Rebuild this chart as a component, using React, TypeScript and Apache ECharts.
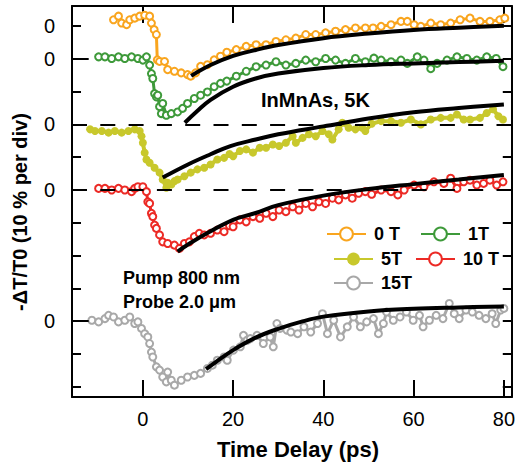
import React, { useEffect, useRef } from "react";
import * as echarts from "echarts";

const FONT = '"Liberation Sans", Arial, Helvetica, sans-serif';

// x range (ps) and y range (% ; 10 % per division)
const X_MIN = -15.7;
const X_MAX = 81.75;
const Y_MIN = -3.1;
const Y_MAX = 116.1;
const xTicks = [0, 20, 40, 60, 80];
const yTicks = [0, 10, 20, 30, 40, 50, 60, 70, 80, 90, 100, 110];

const fieldNames = ["0 T", "1T", "5T", "10 T", "15T"];
const zeroLevels = [110, 100, 80, 60, 20];
const colors = ["#F9A51E", "#3E9A3A", "#C8C82C", "#EC2A25", "#A8A8A8"];
const filledSymbol = [false, false, true, false, false];
const dashedZeroLevels = [80, 60];
const longTickLevels = [100, 20];

// measured traces: [time (ps), -dT/T0 (%)]
const trace0T: [number, number][] = [
  [-6.5, 1.9], [-5.4, 3.0], [-4.7, 0.9], [-3.6, 0.4], [-2.9, 1.9], [-1.8, 2.4], [-0.7, 3.0], [0.4, 3.3],
  [1.5, 3.0], [1.9, 0.9], [2.5, -1.1], [3.0, -2.6], [3.2, -10.3], [3.7, -10.8], [4.8, -10.8], [5.5, -13.3],
  [7.0, -13.8], [8.5, -14.3], [9.9, -14.8], [10.6, -15.3], [11.7, -14.3], [12.8, -12.3], [14.3, -11.8],
  [15.8, -10.3], [17.2, -9.2], [18.6, -8.0], [20.7, -7.2], [22.9, -6.2], [25.1, -5.7], [27.3, -5.7],
  [29.5, -4.7], [31.7, -4.2], [33.9, -3.7], [36.1, -2.6], [38.3, -2.6], [40.5, -2.1], [42.7, -1.6],
  [44.9, -1.1], [47.1, -0.6], [49.3, -0.6], [51.0, -0.6], [52.8, -0.1], [55.0, 0.4], [57.2, 1.4],
  [58.6, 1.4], [60.1, 0.4], [61.6, -0.1], [63.8, 0.9], [66.0, 0.4], [68.2, 0.9], [70.3, 1.9], [72.5, 2.4],
  [74.7, 1.4], [76.9, 1.4], [79.1, 1.9], [80.2, 2.4],
];
const trace1T: [number, number][] = [
  [-9.8, 0.6], [-8.4, 0.6], [-6.9, 0.1], [-5.4, 0.6], [-4.0, 0.1], [-2.5, 0.6], [-1.1, 0.1], [0.0, -0.4],
  [0.8, 0.6], [1.5, -1.9], [1.9, -4.5], [2.2, -6.0], [2.6, -10.6], [3.0, -11.6], [3.3, -11.1], [3.7, -14.6],
  [4.1, -16.7], [4.4, -13.6], [5.2, -17.2], [6.3, -16.7], [7.7, -16.2], [8.8, -15.1], [9.9, -13.6],
  [11.4, -12.1], [12.8, -11.1], [14.3, -10.1], [15.8, -8.5], [17.2, -7.5], [18.6, -6.8], [20.7, -5.3],
  [22.9, -3.8], [25.1, -2.4], [27.3, -1.9], [29.5, -0.9], [31.7, -1.9], [33.9, -1.4], [36.1, -0.4],
  [38.3, -0.9], [40.5, 0.1], [42.7, -0.4], [44.9, -1.4], [47.1, 0.1], [49.3, -0.9], [51.2, 0.2],
  [52.8, -0.4], [55.0, -0.9], [57.2, -0.4], [58.6, -1.4], [60.8, 0.6], [62.3, -0.4], [63.8, -3.0],
  [65.2, -1.4], [67.4, -0.4], [69.6, 0.6], [71.8, 0.1], [74.0, -0.4], [76.2, 0.6], [78.3, 0.1], [79.8, -2.4],
];
const trace5T: [number, number][] = [
  [-11.7, -1.5], [-10.6, -2.0], [-9.1, -2.0], [-7.6, -2.5], [-6.2, -2.0], [-4.7, -2.5], [-3.2, -2.0],
  [-1.8, -1.5], [-0.7, -2.0], [-0.3, -3.6], [0.0, -5.6], [0.4, -8.6], [0.8, -10.7], [1.5, -11.7],
  [2.6, -13.2], [3.7, -14.7], [4.4, -16.8], [5.2, -19.3], [5.5, -17.8], [6.3, -18.3], [7.0, -17.3],
  [7.7, -16.8], [9.2, -15.8], [10.6, -14.7], [12.1, -13.7], [13.6, -13.2], [15.0, -12.2], [16.5, -10.7],
  [18.0, -10.2], [19.2, -9.0], [20.0, -9.7], [21.5, -8.1], [22.9, -7.6], [24.4, -8.6], [25.9, -7.1],
  [27.3, -7.1], [28.8, -6.1], [30.2, -6.6], [31.7, -5.6], [33.2, -3.6], [33.9, -5.6], [35.4, -4.1],
  [36.8, -3.0], [38.3, -3.6], [39.8, -2.0], [41.2, -3.0], [42.0, -4.6], [43.4, -1.5], [44.2, 0.5],
  [45.6, -1.0], [47.1, -1.5], [48.6, -1.0], [49.3, -2.0], [50.7, 0.2], [52.8, 1.0], [55.0, 1.0],
  [57.2, 0.5], [59.4, 1.5], [61.6, 0.0], [63.8, 1.5], [66.0, 2.0], [68.2, 2.0], [69.6, 3.0], [71.1, 1.5],
  [72.5, 1.5], [74.7, 2.0], [76.2, 3.5], [77.6, 4.6], [78.8, 2.5], [79.8, 1.5],
];
const trace10T: [number, number][] = [
  [-9.8, 0.5], [-8.4, 0.5], [-6.9, 0.0], [-5.4, 0.5], [-4.0, 0.0], [-2.5, -0.5], [-1.8, 0.5], [-1.1, 1.0],
  [0.0, 1.0], [0.8, -0.5], [1.1, -3.6], [1.5, -4.1], [1.9, -7.1], [2.2, -8.1], [2.6, -10.7], [3.0, -11.7],
  [3.7, -13.7], [4.4, -15.8], [5.5, -16.3], [7.0, -16.8], [8.1, -17.8], [9.2, -16.3], [10.3, -15.8],
  [11.4, -14.2], [12.5, -13.2], [13.6, -13.7], [15.0, -13.2], [16.5, -12.2], [18.0, -12.7], [19.2, -10.9],
  [20.0, -11.2], [21.5, -9.1], [22.9, -9.7], [24.4, -8.1], [25.9, -8.6], [27.3, -7.1], [28.8, -8.1],
  [30.2, -6.1], [31.7, -6.6], [33.2, -5.1], [34.6, -6.1], [36.1, -4.1], [37.6, -5.1], [39.0, -3.6],
  [40.5, -4.1], [42.0, -2.5], [43.4, -3.0], [44.9, -1.5], [46.4, -2.5], [47.8, -1.0], [49.3, -0.5],
  [50.7, -1.3], [52.8, 0.0], [55.0, -0.5], [56.5, -1.5], [57.9, 0.0], [60.1, 1.5], [62.3, 1.0], [64.5, 2.5],
  [66.7, 2.0], [68.2, 3.6], [69.6, 0.5], [71.1, 2.5], [72.5, 3.0], [74.0, 1.5], [75.5, 2.0], [76.9, 3.0],
  [78.4, 1.5], [79.8, 2.5],
];
const trace15T: [number, number][] = [
  [-11.3, 0.3], [-9.8, -0.2], [-8.4, 0.8], [-7.6, 1.8], [-6.5, 1.3], [-5.4, -0.2], [-4.0, 0.3], [-2.9, 1.3],
  [-1.8, -0.7], [-1.1, -0.2], [-0.3, -2.2], [0.4, -3.8], [1.1, -4.8], [1.5, -6.8], [1.9, -9.4], [2.2, -10.9],
  [3.0, -13.9], [3.7, -14.9], [4.4, -17.0], [5.2, -18.5], [5.5, -15.5], [6.3, -18.0], [7.0, -19.5],
  [8.5, -18.0], [9.9, -17.0], [11.4, -16.5], [12.8, -15.9], [14.3, -14.4], [15.4, -13.4], [16.5, -11.9],
  [18.0, -10.9], [18.7, -11.9], [20.1, -8.8], [21.6, -7.8], [22.3, -4.3], [23.1, -5.8], [23.8, -5.3],
  [25.3, -4.3], [26.7, -6.8], [28.2, -4.8], [28.9, -7.8], [29.7, -0.7], [30.4, -2.2], [31.9, -2.7],
  [32.8, -3.3], [34.3, -3.8], [35.7, -1.7], [37.2, -3.3], [38.7, -0.7], [39.8, 2.3], [40.9, -3.8],
  [42.3, 0.3], [43.8, -4.8], [45.3, -1.7], [46.7, 1.3], [48.2, -1.7], [49.6, -0.2], [51.1, 0.8],
  [52.2, -3.8], [53.3, -0.7], [54.0, 2.8], [55.5, 0.3], [57.0, 1.3], [58.4, 2.8], [59.9, 0.3], [61.3, 1.8],
  [62.1, -1.7], [63.5, 0.3], [65.0, 1.8], [66.5, 0.8], [67.9, 5.4], [69.0, 2.3], [70.1, 0.8], [71.6, 3.4],
  [73.0, 2.8], [74.5, 1.8], [76.0, 0.8], [77.4, 2.3], [78.2, -0.7], [79.3, 3.4], [80.0, 3.9],
];

// fitted recovery curves
const fit0T: [number, number][] = [
  [10.7, -15.2], [15, -11.9], [20, -9.1], [25, -7.3], [30, -5.8], [40, -3.7], [50, -2.3], [60, -1.2], [70, -0.5], [80, 0.1],
];
const fit1T: [number, number][] = [
  [9.3, -19.5], [12, -16.0], [15, -12.5], [20, -8.5], [25, -6.0], [30, -4.5], [40, -2.8], [50, -1.9], [60, -1.4], [70, -1.0], [80, -0.6],
];
const fit5T: [number, number][] = [
  [4.4, -16.2], [10, -12.2], [15, -9.1], [19.4, -6.6], [25, -4.6], [30, -3.0], [40, -0.6], [50, 1.8], [60, 3.7], [70, 5.0], [80, 6.1],
];
const fit10T: [number, number][] = [
  [7.7, -18.8], [10, -16.6], [15, -12.6], [20, -9.1], [25, -7.0], [30, -4.6], [40, -1.7], [50, 0.3], [60, 1.8], [70, 3.2], [80, 4.6],
];
const fit15T: [number, number][] = [
  [14, -14.6], [16, -12.6], [20, -8.8], [25, -5.0], [30, -2.3], [35, -0.2], [40, 1.4], [50, 3.0], [60, 3.8], [70, 4.2], [80, 4.5],
];

const traces = [trace0T, trace1T, trace5T, trace10T, trace15T];
const fits = [fit0T, fit1T, fit5T, fit10T, fit15T];

// legend placement (icon left, top)
const legendPos: [number, number][] = [[326, 225], [420, 225], [333, 250], [415, 250], [333, 274]];

export default function App() {
  const ref = useRef<HTMLDivElement>(null);
  useEffect(() => {
    if (!ref.current) return;
    const chart = echarts.init(ref.current, undefined, { renderer: "svg" });

    const axisLine = { show: true, onZero: false, lineStyle: { color: "#000", width: 2 } };

    const dataSeries = traces.map((tr, i) => ({
      type: "line",
      name: fieldNames[i],
      data: tr.map(([t, v]) => [t, v + zeroLevels[i]]),
      symbol: filledSymbol[i] ? "circle" : "emptyCircle",
      symbolSize: filledSymbol[i] ? 8 : 7,
      showSymbol: true,
      lineStyle: { color: colors[i], width: filledSymbol[i] ? 4 : 3 },
      itemStyle: { color: colors[i], borderWidth: 2 },
      z: 3,
      silent: true,
    }));

    const fitSeries = fits.map((f, i) => ({
      type: "line",
      data: f.map(([t, v]) => [t, v + zeroLevels[i]]),
      symbol: "none",
      smooth: 0.4,
      lineStyle: { color: "#000", width: 4 },
      z: 4,
      silent: true,
    }));

    const refSeries = {
      type: "line",
      data: [],
      silent: true,
      z: 2,
      markLine: {
        symbol: "none",
        silent: true,
        label: { show: false },
        lineStyle: { color: "#000", width: 2, type: "solid" },
        data: [
          ...dashedZeroLevels.map((y) => ({
            yAxis: y,
            lineStyle: { color: "#000", width: 2, type: [15, 13.3] },
          })),
          ...longTickLevels.map((y) => [
            { coord: [X_MIN, y] },
            { coord: [X_MIN + 3.7, y] },
          ]),
        ],
      },
    };

    const legendCommon = {
      itemWidth: 39,
      itemHeight: 16,
      padding: 0,
      selectedMode: false,
      textStyle: { fontSize: 18, fontWeight: "bold", color: "#000", fontFamily: FONT, padding: [0, 0, 0, 3] },
    };

    chart.setOption({
      animation: false,
      backgroundColor: "#fff",
      textStyle: { fontFamily: FONT },
      grid: { left: 72, top: 6, width: 444, height: 391, containLabel: false },
      legend: fieldNames.map((n, i) => ({
        ...legendCommon,
        data: [n],
        left: legendPos[i][0],
        top: legendPos[i][1],
      })),
      xAxis: [
        {
          type: "value",
          position: "bottom",
          min: X_MIN,
          max: X_MAX,
          axisLine,
          axisTick: { show: true, inside: true, length: 17, lineStyle: { color: "#000", width: 2 }, customValues: xTicks },
          axisLabel: { show: true, customValues: xTicks, fontSize: 20, color: "#000", margin: 12, fontFamily: FONT },
          splitLine: { show: false },
        },
        {
          type: "value",
          position: "top",
          min: X_MIN,
          max: X_MAX,
          axisLine,
          axisTick: { show: true, inside: true, length: 17, lineStyle: { color: "#000", width: 2 }, customValues: xTicks },
          axisLabel: { show: false },
          splitLine: { show: false },
        },
      ],
      yAxis: [
        {
          type: "value",
          position: "left",
          min: Y_MIN,
          max: Y_MAX,
          axisLine,
          axisTick: { show: true, inside: true, length: 9, lineStyle: { color: "#000", width: 2 }, customValues: yTicks },
          axisLabel: {
            show: true,
            customValues: zeroLevels,
            formatter: () => "0",
            fontSize: 20,
            color: "#000",
            margin: 17,
            fontFamily: FONT,
          },
          splitLine: { show: false },
        },
        {
          type: "value",
          position: "right",
          min: Y_MIN,
          max: Y_MAX,
          axisLine,
          axisTick: { show: true, inside: true, length: 9, lineStyle: { color: "#000", width: 2 }, customValues: yTicks },
          axisLabel: { show: false },
          splitLine: { show: false },
        },
      ],
      graphic: [
        {
          type: "text",
          x: 298,
          y: 449,
          style: { text: "Time Delay (ps)", font: `bold 22px ${FONT}`, fill: "#000", align: "center", verticalAlign: "middle" },
        },
        {
          type: "text",
          x: 20,
          y: 212,
          rotation: Math.PI / 2,
          style: { text: "-\u0394T/T0 (10 % per div)", font: `bold 20px ${FONT}`, fill: "#000", align: "center", verticalAlign: "middle" },
        },
        {
          type: "text",
          x: 261,
          y: 100,
          style: { text: "InMnAs, 5K", font: `bold 20px ${FONT}`, fill: "#000", align: "left", verticalAlign: "middle" },
        },
        {
          type: "text",
          x: 123,
          y: 278,
          style: { text: "Pump 800 nm", font: `bold 18px ${FONT}`, fill: "#000", align: "left", verticalAlign: "middle" },
        },
        {
          type: "text",
          x: 123,
          y: 302,
          style: { text: "Probe 2.0 \u03bcm", font: `bold 18px ${FONT}`, fill: "#000", align: "left", verticalAlign: "middle" },
        },
      ],
      series: [refSeries, ...dataSeries, ...fitSeries],
    });

    return () => chart.dispose();
  }, []);

  return (
    <div
      ref={ref}
      style={{ position: "fixed", left: 0, top: 0, width: 518, height: 467, background: "#fff" }}
    />
  );
}
